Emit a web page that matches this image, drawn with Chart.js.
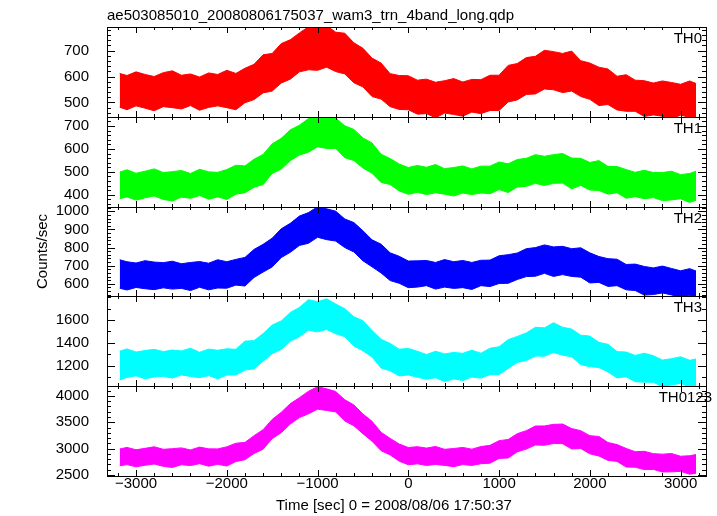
<!DOCTYPE html>
<html>
<head>
<meta charset="utf-8">
<script src="https://cdn.jsdelivr.net/npm/chart.js@4.4.0/dist/chart.umd.min.js"></script>
<style>
  body { margin: 0; background: #fff; }
  #wrap { position: relative; width: 717px; height: 516px; background: #fff; overflow: hidden; }
  #wrap canvas { position: absolute; left: 0; }
</style>
</head>
<body>
<div id="wrap">
  <canvas id="c0" width="717" height="129" style="top:0px"></canvas>
  <canvas id="c1" width="717" height="114" style="top:105px"></canvas>
  <canvas id="c2" width="717" height="113" style="top:195px"></canvas>
  <canvas id="c3" width="717" height="114" style="top:284px"></canvas>
  <canvas id="c4" width="717" height="142" style="top:374px"></canvas>
</div>
<script>
// time bins (sec from 2008/08/06 17:50:37)
const TIME = [-3180, -3100, -3000, -2900, -2800, -2700, -2600, -2500, -2400, -2300,
  -2200, -2100, -2000, -1900, -1800, -1700, -1600, -1500, -1400, -1300,
  -1200, -1100, -1000, -900, -800, -700, -600, -500, -400, -300,
  -200, -100, 0, 100, 200, 300, 400, 500, 600, 700,
  800, 900, 1000, 1100, 1200, 1300, 1400, 1500, 1600, 1700,
  1800, 1900, 2000, 2100, 2200, 2300, 2400, 2500, 2600, 2700,
  2800, 2900, 3000, 3100, 3170];

// upper / lower envelope of the noisy light curves (counts/sec)
const TH0_HI = [612, 604, 618, 608, 600, 615, 622, 605, 610, 598, 614, 608, 624, 612, 632, 647, 684, 689, 727, 742,
  768, 792, 789, 796, 771, 767, 730, 709, 671, 652, 611, 604, 603, 586, 590, 578, 584, 592, 579, 589,
  588, 605, 605, 643, 650, 673, 678, 701, 696, 689, 698, 661, 652, 636, 629, 601, 607, 586, 584, 575,
  583, 577, 570, 583, 573];
const TH0_LO = [482, 472, 487, 478, 468, 484, 480, 475, 488, 470, 481, 487, 480, 472, 499, 511, 537, 544, 575, 590,
  618, 626, 624, 636, 619, 610, 576, 560, 523, 513, 484, 473, 472, 455, 457, 441, 459, 454, 447, 463,
  457, 469, 469, 502, 510, 531, 533, 552, 549, 538, 544, 523, 512, 488, 492, 471, 466, 466, 446, 452,
  447, 438, 451, 443, 432];

const TH1_HI = [499, 509, 494, 503, 513, 497, 501, 506, 493, 511, 500, 498, 510, 529, 526, 555, 576, 622, 646, 683,
  703, 732, 754, 742, 734, 701, 685, 648, 626, 577, 558, 534, 519, 528, 520, 532, 514, 519, 526, 513,
  525, 525, 543, 535, 554, 559, 575, 568, 575, 580, 560, 559, 541, 549, 524, 523, 510, 498, 507, 497,
  497, 503, 488, 493, 503];
const TH1_LO = [383, 391, 377, 387, 395, 380, 373, 390, 385, 397, 381, 391, 380, 403, 409, 433, 445, 493, 512, 549,
  573, 586, 609, 602, 602, 562, 549, 517, 494, 454, 445, 417, 402, 411, 401, 409, 403, 395, 408, 401,
  408, 405, 423, 410, 434, 437, 450, 441, 450, 451, 426, 441, 421, 419, 403, 409, 385, 392, 383, 388,
  375, 378, 383, 367, 376];

const TH2_HI = [733, 722, 715, 728, 720, 717, 725, 711, 718, 723, 714, 733, 722, 735, 746, 790, 818, 852, 904, 934,
  974, 993, 1025, 1014, 1001, 958, 938, 893, 843, 819, 771, 752, 726, 727, 729, 718, 734, 722, 729, 718,
  730, 731, 755, 761, 770, 794, 800, 815, 804, 807, 794, 799, 771, 751, 739, 736, 707, 709, 696, 688,
  698, 685, 672, 684, 671];
const TH2_LO = [576, 566, 580, 573, 568, 578, 571, 575, 563, 581, 567, 577, 576, 593, 588, 635, 665, 693, 745, 774,
  812, 824, 857, 844, 836, 800, 776, 727, 694, 660, 618, 603, 579, 582, 590, 571, 582, 575, 579, 569,
  590, 585, 602, 603, 624, 640, 642, 658, 641, 651, 641, 637, 605, 608, 586, 590, 567, 563, 538, 541,
  550, 539, 525, 536, 525];

const TH3_HI = [1327, 1347, 1319, 1333, 1343, 1323, 1337, 1329, 1353, 1317, 1345, 1335, 1348, 1343, 1415, 1419, 1481, 1555, 1592, 1666,
  1710, 1778, 1760, 1785, 1740, 1699, 1628, 1594, 1508, 1431, 1395, 1344, 1351, 1326, 1298, 1326, 1303, 1316, 1308, 1336,
  1309, 1353, 1366, 1428, 1456, 1487, 1536, 1531, 1576, 1537, 1520, 1467, 1459, 1404, 1387, 1323, 1319, 1290, 1309, 1287,
  1249, 1261, 1278, 1247, 1259];
const TH3_LO = [1075, 1097, 1111, 1085, 1101, 1107, 1091, 1119, 1105, 1095, 1113, 1085, 1118, 1119, 1161, 1173, 1239, 1305, 1342, 1414,
  1454, 1510, 1496, 1517, 1480, 1453, 1372, 1330, 1276, 1179, 1155, 1110, 1119, 1098, 1082, 1094, 1061, 1084, 1070, 1100,
  1091, 1121, 1122, 1176, 1228, 1245, 1284, 1283, 1316, 1291, 1278, 1209, 1191, 1184, 1145, 1093, 1103, 1060, 1055, 1055,
  1015, 1031, 1046, 1013, 1029];

const TH0123_HI = [2994, 3024, 2979, 3006, 3036, 2988, 3000, 3015, 2976, 3030, 2997, 2996, 3035, 3103, 3119, 3246, 3361, 3555, 3689, 3854,
  3967, 4088, 4174, 4135, 4083, 3928, 3829, 3658, 3519, 3310, 3195, 3088, 3022, 3038, 3011, 3042, 2988, 3003, 3024, 2991,
  3040, 3063, 3152, 3174, 3284, 3342, 3429, 3431, 3461, 3467, 3381, 3341, 3246, 3231, 3117, 3077, 3005, 2942, 2950, 2906,
  2896, 2908, 2857, 2866, 2889];
const TH0123_LO = [2674, 2698, 2656, 2686, 2710, 2665, 2644, 2695, 2680, 2716, 2668, 2703, 2671, 2755, 2792, 2908, 2990, 3190, 3303, 3468,
  3589, 3660, 3749, 3725, 3697, 3525, 3433, 3283, 3143, 2961, 2882, 2763, 2695, 2713, 2682, 2701, 2683, 2659, 2698, 2683,
  2715, 2725, 2816, 2823, 2940, 2992, 3070, 3064, 3098, 3094, 2995, 3003, 2902, 2861, 2778, 2759, 2652, 2648, 2604, 2607,
  2558, 2561, 2570, 2516, 2536];

// axis ticks
const X_TICKS = [-3000, -2000, -1000, 0, 1000, 2000, 3000];
const TH0_TICKS = [500, 600, 700];
const TH1_TICKS = [400, 500, 600, 700];
const TH2_TICKS = [600, 700, 800, 900, 1000];
const TH3_TICKS = [1200, 1400, 1600];
const TH0123_TICKS = [2500, 3000, 3500, 4000];

const FONT = '"Liberation Sans", Arial, Helvetica, sans-serif';
Chart.defaults.font.family = FONT;
Chart.defaults.font.size = 15;
Chart.defaults.color = '#000';

// frame, inward ticks on all four sides, and the text labels
const panelDecor = {
  id: 'panelDecor',
  afterDraw(chart, args, opts) {
    const { ctx, chartArea: a } = chart;
    const x = chart.scales.x, y = chart.scales.y;
    ctx.save();
    ctx.strokeStyle = '#000';
    ctx.lineWidth = 1;
    ctx.beginPath();
    const start = Math.ceil(y.min / opts.minor) * opts.minor;
    for (let v = start; v <= y.max; v += opts.minor) {
      const py = Math.round(y.getPixelForValue(v)) + 0.5;
      const len = opts.ticks.includes(v) ? 8 : 4;
      ctx.moveTo(a.left, py); ctx.lineTo(a.left + len, py);
      ctx.moveTo(a.right, py); ctx.lineTo(a.right - len, py);
    }
    for (let v = Math.ceil(x.min / 200) * 200; v <= x.max; v += 200) {
      const px = Math.round(x.getPixelForValue(v)) + 0.5;
      const len = X_TICKS.includes(v) ? 6 : 3;
      ctx.moveTo(px, a.top); ctx.lineTo(px, a.top + len);
      ctx.moveTo(px, a.bottom); ctx.lineTo(px, a.bottom - len);
    }
    ctx.stroke();
    ctx.strokeRect(a.left + 0.5, a.top + 0.5, a.right - a.left, a.bottom - a.top);

    ctx.fillStyle = '#000';
    ctx.font = '15px ' + FONT;
    ctx.textBaseline = 'alphabetic';
    ctx.textAlign = 'right';
    ctx.fillText(opts.label, a.right + opts.labelShift, a.top + 16);
    if (opts.title) {
      ctx.textAlign = 'left';
      ctx.fillText(opts.title, a.left, a.top - 7);
    }
    if (opts.xTitle) {
      ctx.textAlign = 'left';
      ctx.fillText(opts.xTitle, 276, a.bottom + 34);
    }
    if (opts.yTitle) {
      ctx.translate(a.left - 60, (a.top + a.bottom) / 2);
      ctx.rotate(-Math.PI / 2);
      ctx.textAlign = 'center';
      ctx.fillText(opts.yTitle, 0, 0);
    }
    ctx.restore();
  }
};

function makePanel(id, hi, lo, color, yMin, yMax, ticks, minor, label, extra) {
  const last = !!extra.xTitle;
  return new Chart(document.getElementById(id), {
    type: 'line',
    data: {
      datasets: [
        { data: TIME.map((t, i) => ({ x: t, y: lo[i] })), borderColor: color, borderWidth: 1, fill: false },
        { data: TIME.map((t, i) => ({ x: t, y: hi[i] })), borderColor: color, borderWidth: 1,
          backgroundColor: color, fill: '-1' }
      ]
    },
    options: {
      responsive: false,
      devicePixelRatio: 1,
      animation: false,
      events: [],
      elements: { point: { radius: 0 }, line: { tension: 0 } },
      layout: { padding: { top: extra.top || 12, bottom: last ? 0 : 12, left: 0, right: 11 } },
      plugins: {
        legend: { display: false },
        tooltip: { enabled: false },
        panelDecor: Object.assign({ ticks: ticks, minor: minor, label: label, labelShift: -4 }, extra)
      },
      scales: {
        x: {
          type: 'linear',
          min: -3320,
          max: 3280,
          display: last,
          afterBuildTicks: s => { s.ticks = X_TICKS.map(v => ({ value: v })); },
          afterFit: s => { s.height = last ? 40 : 0; },
          grid: { display: false },
          border: { display: false },
          ticks: {
            padding: -9,
            maxRotation: 0,
            autoSkip: false,
            callback: v => (v < 0 ? '\u2212' + (-v) : String(v))
          }
        },
        y: {
          min: yMin,
          max: yMax,
          afterBuildTicks: s => { s.ticks = ticks.map(v => ({ value: v })); },
          afterFit: s => { s.width = 107; s.paddingTop = 0; s.paddingBottom = 0; },
          grid: { display: false },
          border: { display: false },
          ticks: { padding: 10, autoSkip: false, callback: v => String(v) }
        }
      }
    },
    plugins: [panelDecor]
  });
}

makePanel('c0', TH0_HI, TH0_LO, '#ff0000', 444, 791, TH0_TICKS, 20, 'TH0',
  { top: 27, title: 'ae503085010_20080806175037_wam3_trn_4band_long.qdp' });
makePanel('c1', TH1_HI, TH1_LO, '#00ff00', 347, 739, TH1_TICKS, 20, 'TH1', {});
makePanel('c2', TH2_HI, TH2_LO, '#0000ff', 533, 1024, TH2_TICKS, 20, 'TH2', { yTitle: 'Counts/sec' });
makePanel('c3', TH3_HI, TH3_LO, '#00ffff', 1022, 1810, TH3_TICKS, 100, 'TH3', {});
makePanel('c4', TH0123_HI, TH0123_LO, '#ff00ff', 2482, 4188, TH0123_TICKS, 100, 'TH0123',
  { labelShift: 6, xTitle: 'Time [sec] 0 = 2008/08/06 17:50:37' });
</script>
</body>
</html>
